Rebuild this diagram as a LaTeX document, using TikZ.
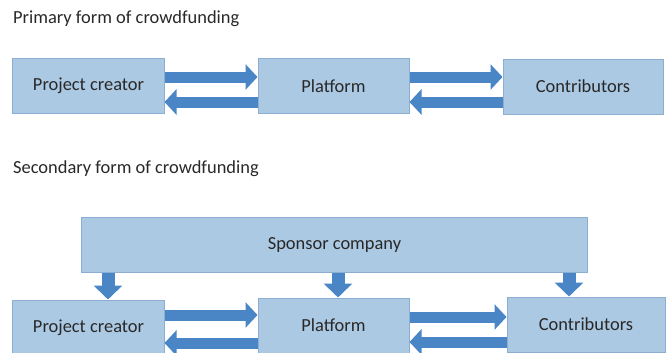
\documentclass[tikz,border=0pt]{standalone}
\usepackage{fontspec}
\setmainfont{Carlito}
\usetikzlibrary{arrows.meta,positioning}
\definecolor{boxFill}{RGB}{172,201,227}
\definecolor{boxLine}{RGB}{140,174,210}
\definecolor{arrowBlue}{RGB}{74,134,198}
\definecolor{textGray}{RGB}{40,40,40}

\begin{document}
\begin{tikzpicture}[x=1bp,y=-1bp,
    blockbox/.style={draw=boxLine, fill=boxFill, line width=1bp, minimum height=55bp,
      inner sep=0pt, text=textGray, font=\fontsize{18.5}{21}\selectfont},
    fatarrow/.style={draw=arrowBlue, line width=11bp, -{Triangle[length=12bp,width=25bp]}},
    downarrow/.style={draw=arrowBlue, line width=13bp, -{Triangle[length=14bp,width=28bp]}},
    heading/.style={anchor=base west, inner sep=0pt, text=textGray, font=\fontsize{18.5}{21}\selectfont}]
    \useasboundingbox (0,0) rectangle (671,352);
    % Titles
    \node[heading] (titleA) at (13,23) {Primary form of crowdfunding};
    \node[heading] (titleB) at (13,173) {Secondary form of crowdfunding};
    % Primary form
    \node[blockbox, minimum width=151bp] (creatorA) at (88.5,85.5) {Project creator};
    \node[blockbox, minimum width=151bp] (platformA) at (333.5,86) {Platform};
    \node[blockbox, minimum width=160bp] (contribA) at (583,86.5) {Contributors};
    \draw[fatarrow] ([yshift=8.5bp]creatorA.east) -- ([yshift=8.5bp]creatorA.east -| platformA.west);
    \draw[fatarrow] ([yshift=-16bp]platformA.west) -- ([yshift=-16bp]platformA.west -| creatorA.east);
    \draw[fatarrow] ([yshift=9bp]platformA.east) -- ([yshift=9bp]platformA.east -| contribA.west);
    \draw[fatarrow] ([yshift=-15.5bp]contribA.west) -- ([yshift=-15.5bp]contribA.west -| platformA.east);
    % Secondary form
    \node[blockbox, minimum width=505bp] (sponsor) at (334.5,244.5) {Sponsor company};
    \node[blockbox, minimum width=151bp] (creatorB) at (88.5,327.5) {Project creator};
    \node[blockbox, minimum width=151bp] (platformB) at (333.5,325.5) {Platform};
    \node[blockbox, minimum width=158bp] (contribB) at (586,324.5) {Contributors};
    % Sponsor feeds all three
    \draw[downarrow] ([xshift=19.5bp]creatorB.north |- sponsor.south) -- ([xshift=19.5bp]creatorB.north);
    \draw[downarrow] ([xshift=4.5bp]platformB.north |- sponsor.south) -- ([xshift=4.5bp]platformB.north);
    \draw[downarrow] ([xshift=-17bp]contribB.north |- sponsor.south) -- ([xshift=-17bp]contribB.north);
    \draw[fatarrow] ([yshift=12.5bp]creatorB.east) -- ([yshift=12.5bp]creatorB.east -| platformB.west);
    \draw[fatarrow] ([yshift=-17.5bp]platformB.west) -- ([yshift=-17.5bp]platformB.west -| creatorB.east);
    \draw[fatarrow] ([yshift=8.5bp]platformB.east) -- ([yshift=8.5bp]platformB.east -| contribB.west);
    \draw[fatarrow] ([yshift=-17.5bp]contribB.west) -- ([yshift=-17.5bp]contribB.west -| platformB.east);
\end{tikzpicture}
\end{document}
